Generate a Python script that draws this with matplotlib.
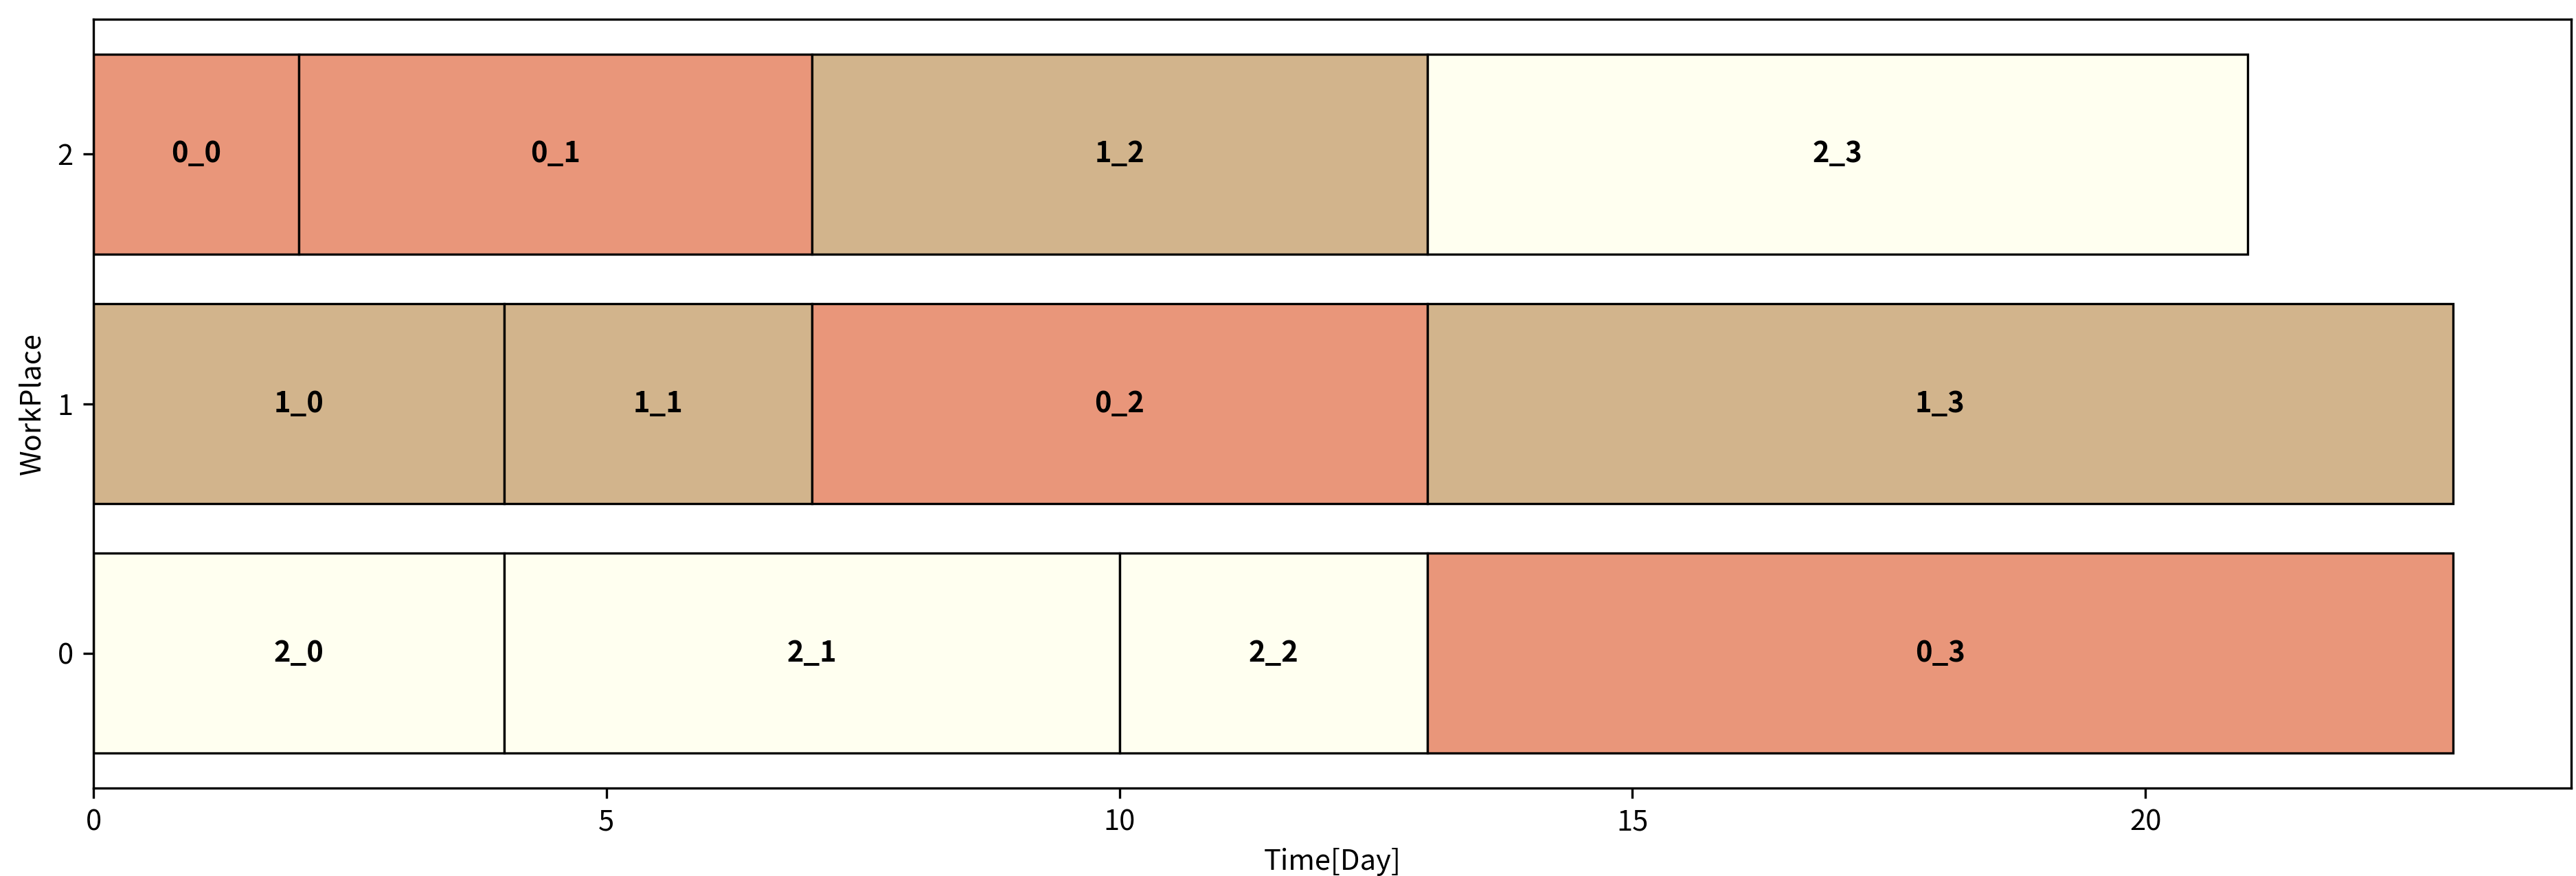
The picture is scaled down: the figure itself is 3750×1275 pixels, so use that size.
import matplotlib as mpl
import matplotlib.pyplot as plt

# schedule: job_operation label, workplace, start, duration
labels = ['0_0', '0_1', '1_2', '2_3',
          '1_0', '1_1', '0_2', '1_3',
          '2_0', '2_1', '2_2', '0_3']
places = [2, 2, 2, 2,
          1, 1, 1, 1,
          0, 0, 0, 0]
starts = [0, 2, 7, 13,
          0, 4, 7, 13,
          0, 4, 10, 13]
durations = [2, 5, 6, 8,
             4, 3, 6, 10,
             4, 6, 3, 10]
job_colors = ['darksalmon', 'tan', 'ivory']

mpl.rcParams['font.family'] = ['Noto Sans CJK KR', 'DejaVu Sans']

fig = plt.figure(figsize=(12.5, 4.25), dpi=300)
ax = fig.add_axes((0.0363, 0.1004, 0.9618, 0.8776))

for lab, p, s, d in zip(labels, places, starts, durations):
    job = int(lab.split('_')[0])
    ax.barh(p, d, left=s, height=0.8, color=job_colors[job],
            edgecolor='black', linewidth=0.8)
    ax.text(s + d / 2, p, lab, ha='center', va='center',
            fontweight='bold', fontsize=10)

ax.set_yticks([0, 1, 2])
ax.set_xlim(left=0)
ax.set_xlabel('Time[Day]')
ax.set_ylabel('WorkPlace')

fig.savefig('out.png', dpi=300)
